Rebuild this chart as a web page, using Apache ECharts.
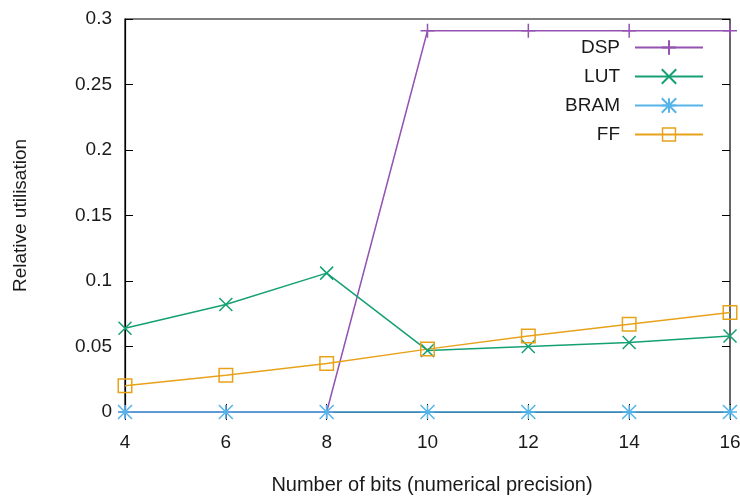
<!DOCTYPE html>
<html>
<head>
<meta charset="utf-8">
<script src="https://cdn.jsdelivr.net/npm/echarts@6/dist/echarts.min.js"></script>
<style>
html,body{margin:0;padding:0;background:#fff;}
#container{width:740px;height:500px;}
</style>
</head>
<body>
<div id="container"></div>
<script>
// data
var bits = [4, 6, 8, 10, 12, 14, 16];
var dsp  = [0, 0, 0, 0.291, 0.291, 0.291, 0.291];
var lut  = [0.064, 0.082, 0.106, 0.047, 0.050, 0.053, 0.058];
var bram = [0, 0, 0, 0, 0, 0, 0];
var ff   = [0.020, 0.028, 0.037, 0.048, 0.058, 0.067, 0.076];
var names = ['DSP', 'LUT', 'BRAM', 'FF'];
var yTicks = [0, 0.05, 0.1, 0.15, 0.2, 0.25, 0.3];

var colors = ['#9452b2', '#15a074', '#56b4e9', '#e8a21a'];
var font = 'Liberation Sans, Arial, sans-serif';

var sym = {
	plus: 'path://M5,0L5,10M0,5L10,5',
	cross: 'path://M0,0L10,10M0,10L10,0',
	star: 'path://M0,0L10,10M0,10L10,0M5,0L5,10M0,5L10,5',
	box: 'path://M0,0L10,0L10,10L0,10ZM1,1L1,9L9,9L9,1Z'
};

function pairs(ys){
	var out = [];
	for (var i = 0; i < bits.length; i++) out.push([bits[i], ys[i]]);
	return out;
}

function mk(name, ys, c, symbol, size, stroke){
	return {
		name: name,
		type: 'line',
		data: pairs(ys),
		clip: false,
		symbol: symbol,
		symbolSize: size,
		showAllSymbol: true,
		lineStyle: { color: c, width: 1.5 },
		itemStyle: { color: c, borderColor: c, borderWidth: stroke ? 1.5 : 0 },
		emphasis: { disabled: true },
		z: 2
	};
}

var myChart = echarts.init(document.getElementById('container'));
var axisText = { color: '#1a1a1a', fontSize: 19, fontFamily: font };

var option = {
	backgroundColor: '#fff',
	animation: false,
	textStyle: { fontFamily: font },
	grid: {
		left: 125, right: 10, top: 19, bottom: 88,
		outerBoundsMode: 'none',
		containLabel: false,
		show: true, borderColor: '#000', borderWidth: 1.2, backgroundColor: 'transparent'
	},
	legend: {
		orient: 'vertical',
		right: 31,
		top: 33,
		align: 'right',
		itemWidth: 68,
		itemHeight: 18,
		itemGap: 10,
		data: names,
		selectedMode: false,
		textStyle: { color: '#1a1a1a', fontSize: 19, fontFamily: font, padding: [0, 10, 0, 0] }
	},
	xAxis: [{
		type: 'value',
		min: 4, max: 16, interval: 2,
		name: 'Number of bits (numerical precision)',
		nameLocation: 'middle',
		nameGap: 63,
		nameTextStyle: { color: '#1a1a1a', fontSize: 20, fontFamily: font, padding: [0, 0, 0, 9] },
		axisLine: { show: true, onZero: false, lineStyle: { color: '#000', width: 1.2 } },
		axisTick: { show: true, inside: true, length: 8, lineStyle: { color: '#000' } },
		axisLabel: { color: '#1a1a1a', fontSize: 19, fontFamily: font, margin: 21 },
		splitLine: { show: false }
	}, {
		type: 'value',
		position: 'top',
		min: 4, max: 16, interval: 2,
		axisLine: { show: false },
		axisTick: { show: true, inside: true, length: 8, lineStyle: { color: '#000' } },
		axisLabel: { show: false },
		splitLine: { show: false }
	}],
	yAxis: [{
		type: 'value',
		min: 0, max: 0.3, interval: 0.05,
		name: 'Relative utilisation',
		nameLocation: 'middle',
		nameGap: 95,
		nameTextStyle: axisText,
		axisLine: { show: true, onZero: false, lineStyle: { color: '#000', width: 1.2 } },
		axisTick: { show: true, inside: true, length: 8, lineStyle: { color: '#000' } },
		axisLabel: {
			color: '#1a1a1a', fontSize: 19, fontFamily: font, margin: 13,
			formatter: function(v){
				for (var i = 0; i < yTicks.length; i++) {
					if (Math.abs(yTicks[i] - v) < 1e-9) return String(yTicks[i]);
				}
				return '';
			}
		},
		splitLine: { show: false }
	}, {
		type: 'value',
		position: 'right',
		min: 0, max: 0.3, interval: 0.05,
		axisLine: { show: false },
		axisTick: { show: true, inside: true, length: 8, lineStyle: { color: '#000' } },
		axisLabel: { show: false },
		splitLine: { show: false }
	}],
	series: [
		mk('DSP', dsp, colors[0], sym.plus, 14, true),
		mk('LUT', lut, colors[1], sym.cross, 13, true),
		mk('BRAM', bram, colors[2], sym.star, 14, true),
		mk('FF', ff, colors[3], sym.box, 15, false)
	]
};
myChart.setOption(option);
</script>
</body>
</html>
